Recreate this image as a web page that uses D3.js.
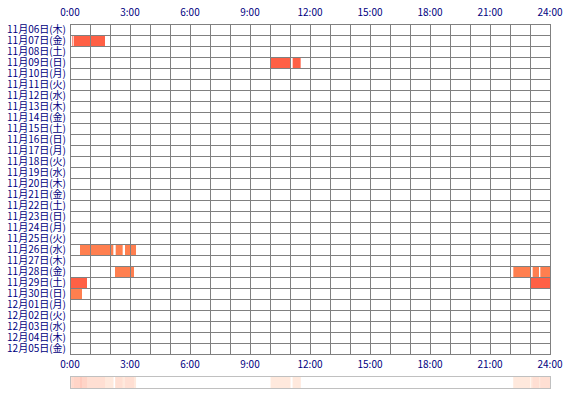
<!DOCTYPE html>
<html>
<head>
<meta charset="utf-8">
<script src="https://cdn.jsdelivr.net/npm/d3@7"></script>
<style>
  body { margin: 0; background: #fff; }
  text { font-family: "Noto Sans CJK JP", sans-serif; font-size: 10px; fill: #000080; }
</style>
</head>
<body>
<div id="chart"></div>
<script>
// day labels, one row each
var days = [
    "11月06日(木)", "11月07日(金)", "11月08日(土)", "11月09日(日)", "11月10日(月)",
    "11月11日(火)", "11月12日(水)", "11月13日(木)", "11月14日(金)", "11月15日(土)",
    "11月16日(日)", "11月17日(月)", "11月18日(火)", "11月19日(水)", "11月20日(木)",
    "11月21日(金)", "11月22日(土)", "11月23日(日)", "11月24日(月)", "11月25日(火)",
    "11月26日(水)", "11月27日(木)", "11月28日(金)", "11月29日(土)", "11月30日(日)",
    "12月01日(月)", "12月02日(火)", "12月03日(水)", "12月04日(木)", "12月05日(金)"
];

var hourTicks = [0, 3, 6, 9, 12, 15, 18, 21, 24];

// sessions: day, start, end, level
var sessDay   = ["11月07日(金)", "11月07日(金)", "11月09日(日)", "11月09日(日)",
                 "11月26日(水)", "11月26日(水)", "11月26日(水)",
                 "11月28日(金)", "11月28日(金)", "11月28日(金)", "11月28日(金)",
                 "11月29日(土)", "11月29日(土)", "11月30日(日)"];
var sessStart = ["0:06", "0:11", "10:02", "11:08",
                 "0:30", "2:17", "2:45",
                 "2:15", "22:10", "23:08", "23:31",
                 "0:03", "23:02", "0:03"];
var sessEnd   = ["0:08", "1:45", "11:01", "11:32",
                 "2:10", "2:38", "3:18",
                 "3:12", "23:00", "23:27", "24:00",
                 "0:51", "24:00", "0:36"];
var sessLevel = [2, 2, 2, 2,
                 1, 1, 1,
                 1, 1, 1, 1,
                 2, 2, 1];

var svgWidth = 570;
var svgHeight = 400;
var gridLeft = 70, gridRight = 550, gridTop = 24, rowH = 11;

var svg = d3.select("#chart")
    .append("svg")
    .attr("width", svgWidth)
    .attr("height", svgHeight);

function toHours(s) {
    var p = s.split(":");
    return +p[0] + p[1] / 60;
}

var sessions = sessDay.map(function(d, i) {
    return { day: d, start: toHours(sessStart[i]), end: toHours(sessEnd[i]), level: sessLevel[i] };
});

var x = d3.scaleLinear().domain([0, 24]).range([gridLeft, gridRight]);
var y = d3.scaleBand().domain(days).range([gridTop, gridTop + rowH * days.length]);
var levelColor = d3.scaleOrdinal().domain([1, 2]).range(["#ff7f4f", "#ff6045"]);

// bars
svg.append("g").selectAll("rect")
    .data(sessions)
    .enter()
    .append("rect")
    .attr("x", d => x(d.start))
    .attr("width", d => x(d.end) - x(d.start))
    .attr("y", d => y(d.day))
    .attr("height", y.bandwidth())
    .attr("fill", d => levelColor(d.level));

// grid on top of the bars
var grid = svg.append("g")
    .attr("stroke", "#808080")
    .attr("stroke-width", 1)
    .attr("shape-rendering", "crispEdges");

grid.selectAll("line.h")
    .data(d3.range(days.length + 1))
    .enter()
    .append("line")
    .attr("x1", gridLeft)
    .attr("x2", gridRight + 1)
    .attr("y1", i => gridTop + i * rowH + 0.5)
    .attr("y2", i => gridTop + i * rowH + 0.5);

grid.selectAll("line.v")
    .data(d3.range(25))
    .enter()
    .append("line")
    .attr("x1", h => Math.round(x(h)) + 0.5)
    .attr("x2", h => Math.round(x(h)) + 0.5)
    .attr("y1", gridTop)
    .attr("y2", gridTop + rowH * days.length + 1);

// day labels
svg.append("g").selectAll("text")
    .data(days)
    .enter()
    .append("text")
    .attr("x", gridLeft - 4)
    .attr("y", d => y(d) + rowH / 2 + 1)
    .attr("text-anchor", "end")
    .attr("dominant-baseline", "middle")
    .text(d => d);

// hour labels top
svg.append("g").selectAll("text")
    .data(hourTicks)
    .enter()
    .append("text")
    .attr("x", d => x(d))
    .attr("y", 16)
    .attr("text-anchor", "middle")
    .text(d => d + ":00");

// summary strip at the bottom
var stripTop = 376, stripH = 12;

svg.append("g").selectAll("text")
    .data(hourTicks)
    .enter()
    .append("text")
    .attr("x", d => x(d))
    .attr("y", 368)
    .attr("text-anchor", "middle")
    .text(d => d + ":00");

// count sessions per minute
var counts = d3.range(24 * 60).map(function(m) {
    var t = (m + 0.5) / 60;
    return sessions.filter(s => s.start <= t && s.end > t).length;
});

var stripColor = d3.scaleLinear().domain([1, 3]).range(["#ffe3d3", "#ffc7b6"]);

svg.append("g").selectAll("rect")
    .data(counts.map((c, m) => ({ m: m, c: c })).filter(d => d.c > 0))
    .enter()
    .append("rect")
    .attr("x", d => x(d.m / 60))
    .attr("width", x(1 / 60) - x(0) + 0.05)
    .attr("y", stripTop)
    .attr("height", stripH)
    .attr("fill", d => stripColor(d.c));

svg.append("rect")
    .attr("x", gridLeft + 0.5)
    .attr("y", stripTop + 0.5)
    .attr("width", gridRight - gridLeft)
    .attr("height", stripH)
    .attr("fill", "none")
    .attr("stroke", "#c0c0c0");
</script>
</body>
</html>
